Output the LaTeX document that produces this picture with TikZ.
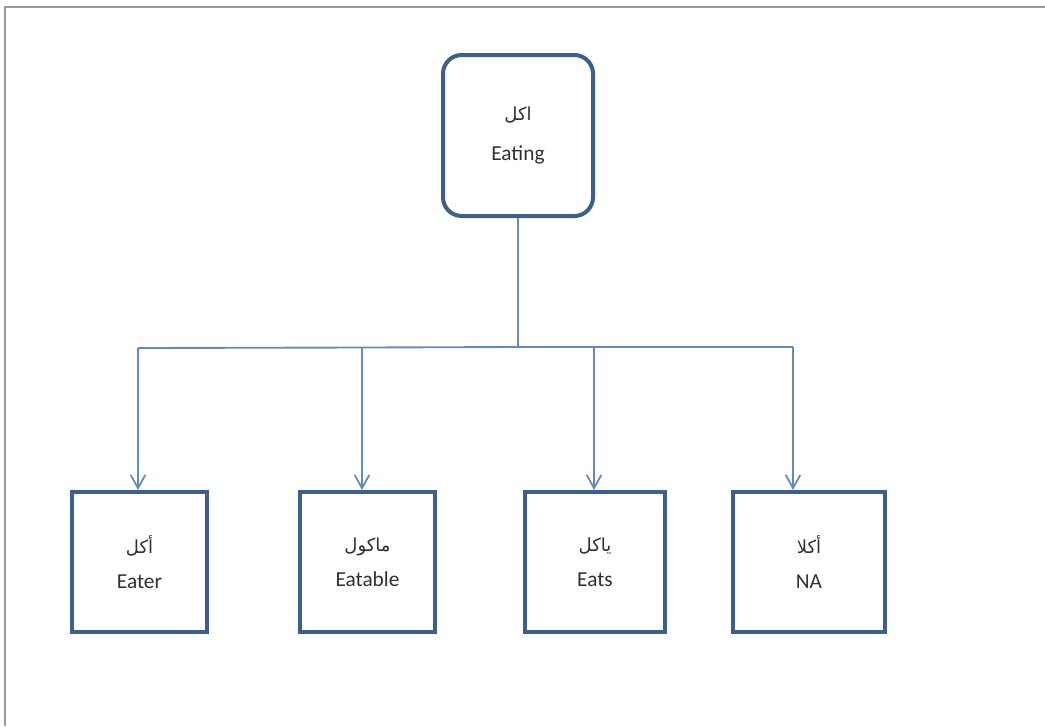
\documentclass[tikz,border=0pt]{standalone}
\usepackage{fontspec}
\setmainfont{Carlito}
\newfontfamily\arabicfont[Script=Arabic]{DejaVu Sans}
\TeXXeTstate=1
\usetikzlibrary{arrows.meta}
\definecolor{boxblue}{HTML}{3B5F8E}
\definecolor{linkblue}{HTML}{6389C2}
\definecolor{txt}{HTML}{303030}
\definecolor{framegray}{HTML}{9A9A9A}
\tikzset{
  rootbox/.style={draw=boxblue, line width=3pt, rounded corners=14pt, fill=white,
    minimum width=112.5pt, minimum height=120.75pt, align=center, text=txt,
    font=\fontsize{16}{30}\selectfont},
  leafbox/.style={draw=boxblue, line width=3pt, fill=white,
    minimum height=105pt, align=center, text=txt,
    font=\fontsize{16}{26}\selectfont},
  link/.style={draw=linkblue, line width=1.4pt},
  arrowlink/.style={link, -{Straight Barb[length=10pt,width=11pt,line width=1.3pt]}},
}
\newcommand{\ar}[1]{{\arabicfont\fontsize{13.5}{18}\selectfont\beginR #1\endR}}
\begin{document}
\begin{tikzpicture}[x=0.75pt,y=-0.75pt]
  \useasboundingbox (0,0) rectangle (1045,726);
  \fill[white] (0,0) rectangle (1045,726);
  % page frame
  \draw[framegray, line width=1pt] (1045,7) -- (5,7) -- (5,726);

  % nodes
  \node[rootbox] (root) at (518,135.5) {\ar{اكل}\\Eating};
  \node[leafbox, minimum width=101pt] (eater) at (139.5,562) {\ar{أكل}\\Eater};
  \node[leafbox, minimum width=101pt] (eatable) at (367.5,562) {\ar{ماكول}\\Eatable};
  \node[leafbox, minimum width=105pt] (eats) at (595,562) {\ar{ياكل}\\Eats};
  \node[leafbox, minimum width=114pt] (na) at (809,562) {\ar{أكلا}\\NA};

  % branch points on the distribution bar
  \coordinate (hub) at (518,347);
  \coordinate (b1) at (138,348);
  \coordinate (b2) at (362,347.5);
  \coordinate (b3) at (594,347);
  \coordinate (b4) at (793,347);

  % connectors
  \draw[link] (root.south) -- (hub);
  \draw[link] (b1) -- (b2) -- (hub) -- (b3) -- (b4);
  \draw[arrowlink] (b1) -- (b1 |- eater.north);
  \draw[arrowlink] (b2) -- (b2 |- eatable.north);
  \draw[arrowlink] (b3) -- (b3 |- eats.north);
  \draw[arrowlink] (b4) -- (b4 |- na.north);
\end{tikzpicture}
\end{document}
